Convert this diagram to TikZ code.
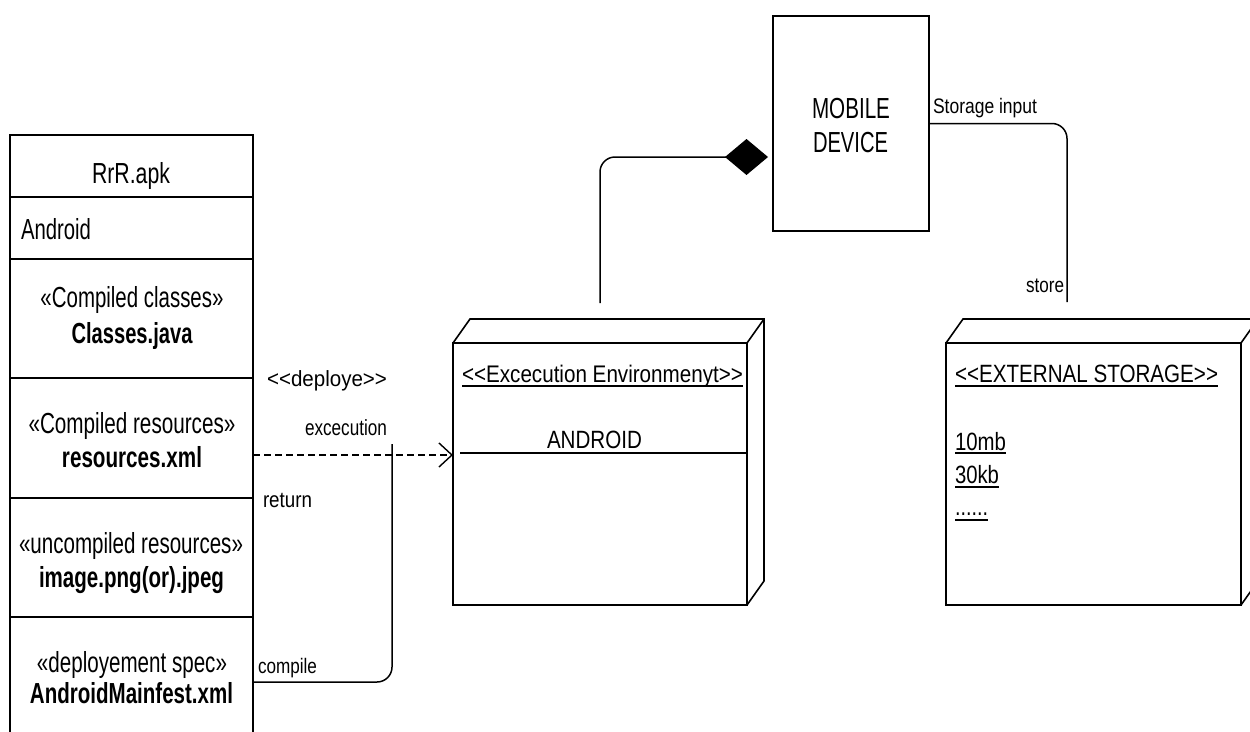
\documentclass[tikz,border=0pt]{standalone}
\usepackage{fontspec}
\setmainfont{Liberation Sans}
\usepackage{graphicx}
\usetikzlibrary{arrows.meta}
\newcommand\fw[3]{\fontsize{#1pt}{#1pt}\selectfont\resizebox{#2pt}{\height}{#3}}
\begin{document}
\begin{tikzpicture}[x=1pt,y=-1pt,
  box/.style={draw, line width=1.6pt, inner sep=0, outer sep=0},
  row/.style={box, minimum width=243pt, anchor=north west},
  lb/.style={inner sep=0, outer sep=0, anchor=base},
  lbw/.style={inner sep=0, outer sep=0, anchor=base west},
  conn/.style={line width=1.5pt},
  ul/.style={line width=1.3pt},
  face/.style={line width=1.6pt, line join=miter}]
\useasboundingbox (0,0) rectangle (1250,731);
\clip (0,0) rectangle (1250,731);

% left artifact stack
\node[row, minimum height=62pt] (r1) at (10,135) {};
\node[row, minimum height=62pt] (r2) at (10,197) {};
\node[row, minimum height=119pt] (r3) at (10,259) {};
\node[row, minimum height=120pt] (r4) at (10,378) {};
\node[row, minimum height=119pt] (r5) at (10,498) {};
\node[row, minimum height=130pt] (r6) at (10,617) {};

\node[lb] (t1) at (131,183) {\fw{29}{78}{RrR.apk}};
\node[lbw] (t2) at (21,239) {\fw{29}{70}{Android}};
\node[lb] (t3a) at (132,307) {\fw{29}{183}{«Compiled classes»}};
\node[lb] (t3b) at (132,343) {\bfseries\fw{29}{121}{Classes.java}};
\node[lb] (t4a) at (132,433) {\fw{29}{207}{«Compiled resources»}};
\node[lb] (t4b) at (132,467) {\bfseries\fw{29}{140}{resources.xml}};
\node[lb] (t5a) at (131,553) {\fw{29}{224}{«uncompiled resources»}};
\node[lb] (t5b) at (131.5,587) {\bfseries\fw{29}{185}{image.png(or).jpeg}};
\node[lb] (t6a) at (132,672) {\fw{29}{190}{«deployement spec»}};
\node[lb] (t6b) at (131.5,703) {\bfseries\fw{29}{203}{AndroidMainfest.xml}};

% execution environment node
\node[box, minimum width=294pt, minimum height=262pt, anchor=north west] (exec) at (453,343) {};
\draw[face] (exec.north west) -- ++(17,-24) -- ++(294,0) -- ++(0,262) -- (exec.south east);
\draw[face] (exec.north east) -- ++(17,-24);
\node[lbw] (ee) at (462,382) {\fw{24}{281}{<{}<{}Excecution Environmenyt>{}>}};
\draw[ul] ([yshift=-4pt]ee.base west) -- ([yshift=-4pt]ee.base east);
\node[lbw] (and) at (547,448) {\fw{25}{95}{ANDROID}};
\draw[line width=1.5pt] ([xshift=7pt,yshift=21pt]exec.west) -- ([yshift=21pt]exec.east);

% external storage node
\node[box, minimum width=295pt, minimum height=262pt, anchor=north west] (ext) at (946,343) {};
\draw[face] (ext.north west) -- ++(17,-24) -- ++(295,0) -- ++(0,262) -- (ext.south east);
\draw[face] (ext.north east) -- ++(17,-24);
\node[lbw] (es) at (955,382) {\fw{25}{263}{<{}<{}EXTERNAL STORAGE>{}>}};
\draw[ul] ([yshift=-4pt]es.base west) -- ([yshift=-4pt]es.base east);
\node[lbw] (m10) at (955,450) {\fw{25}{51}{10mb}};
\draw[ul] ([yshift=-3pt]m10.base west) -- ([yshift=-3pt]m10.base east);
\node[lbw] (k30) at (955,483) {\fw{25}{44}{30kb}};
\draw[ul] ([yshift=-4pt]k30.base west) -- ([yshift=-4pt]k30.base east);
\node[lbw] (dots) at (955,515) {\fw{25}{33}{......}};
\draw[ul] ([yshift=-5pt]dots.base west) -- ([yshift=-5pt]dots.base east);

% mobile device
\node[box, minimum width=156pt, minimum height=215pt, anchor=north west] (mob) at (773,16) {};
\node[lb] (mb1) at (851,118) {\fw{29}{78}{MOBILE}};
\node[lb] (mb2) at (850.5,152) {\fw{29}{75}{DEVICE}};

% connectors
\coordinate (cu) at (600,303);
\coordinate (dt) at (768,157);
\draw[conn, -{Diamond[length=43pt,width=36pt]}] (cu) [rounded corners=15pt] |- (dt);

\coordinate (st) at (1067,302);
\draw[conn] (mob.east) [rounded corners=15pt] -| (st);
\node[lbw] (si) at (933,113) {\fw{21}{104}{Storage input}};
\node[lbw] (sto) at (1026,292) {\fw{21}{38}{store}};

\draw[line width=1.4pt, dash pattern=on 7pt off 4pt, -{Straight Barb[length=13pt,width=24pt]}] ([yshift=-17pt]r4.east) -- ([yshift=19pt]exec.west);

\coordinate (ct) at (392,444);
\draw[conn] (r6.east) [rounded corners=15pt] -| (ct);

\node[lbw] (dep) at (267,386) {\fw{22}{120}{<{}<{}deploye>{}>}};
\node[lbw] (exe) at (305,435) {\fw{22}{82}{excecution}};
\node[lbw] (ret) at (263,507) {\fw{22}{49}{return}};
\node[lbw] (com) at (258,673) {\fw{21}{59}{compile}};
\end{tikzpicture}
\end{document}
